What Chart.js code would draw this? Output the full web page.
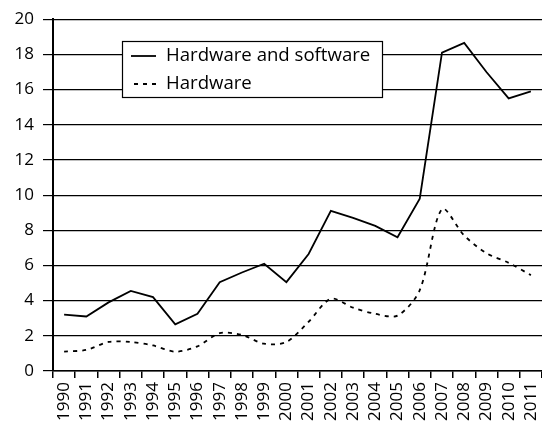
<!DOCTYPE html>
<html>
<head>
<meta charset="utf-8">
<script src="https://cdn.jsdelivr.net/npm/chart.js@4.4.0/dist/chart.umd.min.js"></script>
<style>
  html, body { margin: 0; padding: 0; background: #fff; overflow: hidden; }
  #c { display: block; }
</style>
</head>
<body>
<canvas id="c" width="542" height="429"></canvas>
<script>
const years = ["1990","1991","1992","1993","1994","1995","1996","1997","1998","1999","2000",
               "2001","2002","2003","2004","2005","2006","2007","2008","2009","2010","2011"];
const hardwareAndSoftware = [3.2, 3.1, 3.9, 4.55, 4.2, 2.65, 3.25, 5.05, 5.6, 6.1, 5.05,
                             6.65, 9.1, 8.7, 8.25, 7.6, 9.8, 18.1, 18.65, 17.0, 15.5, 15.9];
const hardware = [1.1, 1.2, 1.65, 1.65, 1.45, 1.1, 1.4, 2.15, 2.05, 1.55, 1.65,
                  2.8, 4.1, 3.6, 3.25, 3.15, 4.6, 9.2, 7.7, 6.7, 6.15, 5.45];
const seriesNames = ["Hardware and software", "Hardware"];
const yTicks = [0, 2, 4, 6, 8, 10, 12, 14, 16, 18, 20];

const FONT = "'Open Sans', 'Noto Sans', sans-serif";
Chart.defaults.font.family = FONT;
Chart.defaults.font.size = 17;
Chart.defaults.color = '#000';

const insideLegend = {
  id: 'insideLegend',
  afterDraw(chart) {
    const ctx = chart.ctx;
    const x0 = 122, y0 = 41, w = 260, h = 56;
    ctx.save();
    ctx.fillStyle = '#fff';
    ctx.fillRect(x0, y0, w, h);
    ctx.strokeStyle = '#000';
    ctx.lineWidth = 1.2;
    ctx.strokeRect(x0 + 0.5, y0 + 0.5, w, h);
    const rows = [56, 84];
    chart.data.datasets.forEach((ds, i) => {
      const y = rows[i];
      ctx.beginPath();
      ctx.setLineDash(ds.borderDash || []);
      ctx.lineWidth = ds.borderWidth;
      ctx.strokeStyle = '#000';
      ctx.moveTo(i === 0 ? 131 : 134, y);
      ctx.lineTo(156, y);
      ctx.stroke();
      ctx.setLineDash([]);
      ctx.fillStyle = '#000';
      ctx.font = '18.6px ' + FONT;
      ctx.textBaseline = 'middle';
      ctx.textAlign = 'left';
      ctx.fillText(ds.label, 166, y);
    });
    ctx.restore();
  }
};

new Chart(document.getElementById('c'), {
  type: 'line',
  data: {
    labels: years,
    datasets: [
      {
        label: seriesNames[0],
        data: hardwareAndSoftware,
        borderColor: '#000',
        borderWidth: 1.8,
        pointRadius: 0,
        tension: 0,
        fill: false
      },
      {
        label: seriesNames[1],
        data: hardware,
        borderColor: '#000',
        borderWidth: 1.8,
        borderDash: [4, 5],
        pointRadius: 0,
        tension: 0.3,
        fill: false
      }
    ]
  },
  options: {
    responsive: false,
    animation: false,
    devicePixelRatio: 1,
    layout: { padding: { top: 16, right: 0, left: 0, bottom: 0 } },
    plugins: { legend: { display: false }, tooltip: { enabled: false } },
    scales: {
      x: {
        type: 'category',
        offset: true,
        grid: { display: true, drawOnChartArea: false, drawTicks: true, offset: true,
                tickLength: 7, color: '#000', tickColor: '#000', lineWidth: 1.5 },
        border: { display: true, color: '#000', width: 1.5 },
        ticks: { minRotation: 90, maxRotation: 90, autoSkip: false, padding: 4,
                 font: { size: 17 }, color: '#000' },
        afterFit(s) { s.height = 58; s.paddingLeft = 0; s.paddingRight = 0; }
      },
      y: {
        min: 0, max: 20,
        afterBuildTicks(s) { s.ticks = yTicks.map(v => ({ value: v })); },
        grid: { display: true, drawOnChartArea: true, drawTicks: true, tickLength: 10,
                color: '#000', tickColor: '#000', lineWidth: 1.2 },
        border: { display: true, color: '#000', width: 2 },
        ticks: { padding: 9, font: { size: 17 }, color: '#000' },
        afterFit(s) { s.width = 53; }
      }
    }
  },
  plugins: [insideLegend]
});
</script>
</body>
</html>
